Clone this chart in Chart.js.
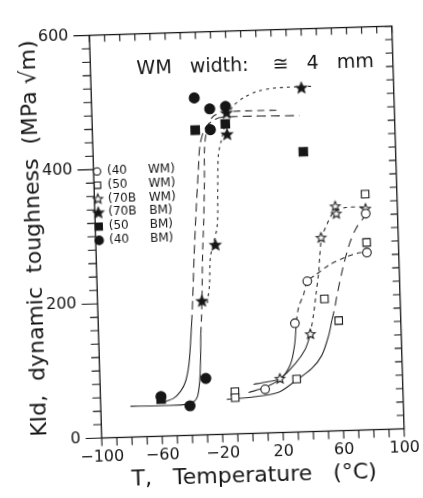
<!DOCTYPE html>
<html>
<head>
<meta charset="utf-8">
<script src="https://cdn.jsdelivr.net/npm/chart.js@4.4.1/dist/chart.umd.min.js"></script>
<style>
  html, body { margin: 0; padding: 0; background: #fff; overflow: hidden; }
  /* the scanned figure sits slightly rotated on the page */
  #wrap {
    position: absolute; left: 0; top: 0; width: 423px; height: 498px;
    transform: rotate(-1.75deg); transform-origin: 246.75px 223.5px;
  }
</style>
</head>
<body>
<div id="wrap"><canvas id="chart" width="423" height="498"></canvas></div>
<script>
// ── DATA (T in °C, KId in MPa√m) ─────────────────
const wm40Points = [[9, 65], [30, 162], [39, 224], [79, 264], [79, 322]];
const wm50Points = [[-11, 63], [-11, 54], [30, 79], [50, 197], [59, 164], [79, 351], [79, 279]];
const wm70Points = [[19, 80], [40, 145], [49, 288], [59, 334], [59.5, 323], [79, 329]];
const bm70Points = [[39, 512], [-11, 446], [-11, 478], [-21, 282], [-31, 199]];
const bm50Points = [[-32, 454], [-12, 462], [39, 417], [-60, 55]];
const bm40Points = [[-32, 502], [-22, 485], [-11.5, 488], [-22, 454], [-60, 59], [-41, 44], [-30, 84]];

// fitted curves, lower shelf solid, upper part dashed
const bmCurveASolid = [[-59.4, 50], [-51.6, 56], [-46.9, 66], [-43.5, 80], [-41, 104], [-39.4, 137], [-38.3, 166]];
const bmCurveADash  = [[-38.3, 166], [-37.3, 195], [-35.3, 266], [-32.9, 338], [-30.7, 395], [-29.2, 431], [-25.8, 455], [-21, 466], [-14.3, 472], [37, 471]];
const bmCurveBSolid = [[-80.4, 46], [-61.7, 45.5], [-45.2, 46], [-38.5, 50], [-35.8, 58], [-34.1, 80], [-33.2, 108], [-32.4, 151]];
const bmCurveBDash  = [[-32.4, 151], [-31.1, 194], [-29.7, 266], [-28.1, 323], [-26.9, 381], [-26.2, 428], [-24.5, 452], [-21.6, 469], [-18.2, 476], [-11, 480], [23, 480]];
const bmCurveCDash  = [[-27.5, 196], [-25.7, 223], [-24.4, 266], [-19.5, 309], [-18.3, 366], [-17.2, 416], [-14.9, 438], [-11.3, 466], [-6.9, 487], [1.3, 501], [10, 509], [21, 513], [46, 514]];
const wm40Solid = [[-2, 61], [9, 68], [19, 79], [26, 100], [29.3, 129], [31, 165]];
const wm40Dash  = [[31, 165], [32.8, 186], [36.4, 205], [38.9, 224], [44.6, 233], [53.6, 247], [64.7, 258], [73.6, 264], [79, 264]];
const wm70Solid = [[1.4, 73], [10, 76], [19, 80], [29.4, 102], [36.3, 123], [40, 145]];
const wm70Dash  = [[40, 145], [42.6, 176], [44.5, 204], [46.9, 240], [47.6, 257], [49.4, 288], [53.4, 309], [58, 326], [65.9, 332], [79, 332]];
const wm50Solid = [[-16.5, 52], [0, 54], [17.7, 60], [29, 76], [40.2, 94], [47.1, 113], [52, 142], [54.5, 165]];
const wm50Dash  = [[54.5, 165], [56.5, 182], [58.3, 201], [62.2, 237], [67.2, 275], [72.2, 300], [77.7, 316], [83, 322]];

// ── AXES ─────────────────────────────────────────
const xTickValues  = [-100, -90, -80, -70, -60, -50, -40, -30, -20, -10, 0, 10, 20, 30, 40, 50, 60, 70, 80, 90, 100];
const xLabelValues = [-100, -60, -20, 20, 60, 100];
const xTickLabels  = ['\u2212100', '\u221260', '\u221220', '20', '60', '100'];
const yTickValues  = [0, 20, 40, 60, 80, 100, 120, 140, 160, 180, 200, 220, 240, 260, 280, 300,
                      320, 340, 360, 380, 400, 420, 440, 460, 480, 500, 520, 540, 560, 580, 600];
const yLabelValues = [0, 200, 400, 600];
const yTickLabels  = ['0', '200', '400', '600'];

const INK  = '#161616';
const LINE = '#2a2a2a';
const FONT = 'DejaVu Sans';

// ── MARKERS ──────────────────────────────────────
function starImage(filled, r) {
  const s = Math.ceil(r * 2 + 4);
  const c = document.createElement('canvas');
  c.width = c.height = s;
  const g = c.getContext('2d');
  g.beginPath();
  for (let i = 0; i < 10; i++) {
    const rr = i % 2 ? r * 0.45 : r;
    const a = -Math.PI / 2 + i * Math.PI / 5;
    g.lineTo(s / 2 + rr * Math.cos(a), s / 2 + rr * Math.sin(a));
  }
  g.closePath();
  g.fillStyle = filled ? INK : '#fff';
  g.fill();
  g.lineWidth = 1.1;
  g.strokeStyle = INK;
  g.stroke();
  return c;
}
const openStar   = starImage(false, 5);
const filledStar = starImage(true, 5.6);

const pts = arr => arr.map(([x, y]) => ({ x, y }));

function marks(label, data, style, radius, filled) {
  return {
    label,
    data: pts(data),
    showLine: false,
    pointStyle: style,
    pointRadius: radius,
    pointBorderWidth: 1.1,
    pointBorderColor: INK,
    pointBackgroundColor: filled ? INK : '#fff',
    order: 0,
  };
}

function curve(data, dash) {
  return {
    data: pts(data),
    showLine: true,
    borderColor: LINE,
    borderWidth: 1.1,
    borderDash: dash,
    pointRadius: 0,
    tension: 0.3,
    fill: false,
    order: 2,
  };
}

// ── PLUGINS ──────────────────────────────────────
const frameTicks = {
  id: 'frameTicks',
  afterDraw(chart) {
    const { ctx, chartArea: a, scales: { x, y } } = chart;
    ctx.save();
    ctx.strokeStyle = INK;
    ctx.lineWidth = 1.3;
    ctx.strokeRect(a.left, a.top, a.right - a.left, a.bottom - a.top);
    ctx.lineWidth = 1.1;
    ctx.beginPath();
    xTickValues.forEach(v => {
      const px = x.getPixelForValue(v);
      ctx.moveTo(px, a.bottom); ctx.lineTo(px, a.bottom + 8);
      ctx.moveTo(px, a.top);    ctx.lineTo(px, a.top + 7);
    });
    yTickValues.forEach(v => {
      const py = y.getPixelForValue(v);
      const len = yLabelValues.includes(v) ? 16 : 8;
      ctx.moveTo(a.left - len, py); ctx.lineTo(a.left, py);
      ctx.moveTo(a.right, py);      ctx.lineTo(a.right - 7, py);
    });
    ctx.stroke();
    ctx.restore();
  },
};

const legendBox = {
  id: 'legendBox',
  afterDraw(chart) {
    const { ctx, chartArea: a, scales: { y } } = chart;
    const rows = chart.data.datasets.filter(d => d.label);
    let yy = y.getPixelForValue(397);
    const mx = a.left + 3.5;
    ctx.save();
    ctx.font = `12px ${FONT}`;
    ctx.textBaseline = 'middle';
    ctx.fillStyle = INK;
    rows.forEach(d => {
      ctx.save();
      ctx.fillStyle = d.pointBackgroundColor;
      ctx.strokeStyle = d.pointBorderColor;
      ctx.lineWidth = d.pointBorderWidth;
      Chart.helpers.drawPoint(ctx, {
        pointStyle: d.pointStyle,
        radius: d.pointRadius * 0.85,
        rotation: 0,
        borderWidth: d.pointBorderWidth,
      }, mx, yy);
      ctx.restore();
      const cut = d.label.lastIndexOf(' ');
      ctx.fillText(d.label.slice(0, cut), mx + 10, yy);
      ctx.fillText(d.label.slice(cut + 1), mx + 51, yy);
      yy += 13.8;
    });
    ctx.restore();
  },
};

const note = {
  id: 'note',
  afterDraw(chart) {
    const { ctx, scales: { x, y } } = chart;
    ctx.save();
    ctx.font = `19px ${FONT}`;
    ctx.fillStyle = INK;
    ctx.textAlign = 'center';
    ctx.textBaseline = 'middle';
    ctx.fillText('WM   width:    \u2245   4   mm', x.getPixelForValue(9), y.getPixelForValue(547));
    ctx.restore();
  },
};

// ── CHART ────────────────────────────────────────
new Chart(document.getElementById('chart'), {
  type: 'scatter',
  data: {
    datasets: [
      marks('(40 WM)',  wm40Points, 'circle', 4.3, false),
      marks('(50 WM)',  wm50Points, 'rect',   5.3, false),
      marks('(70B WM)', wm70Points, openStar, 5,   false),
      marks('(70B BM)', bm70Points, filledStar, 5, true),
      marks('(50 BM)',  bm50Points, 'rect',   6,   true),
      marks('(40 BM)',  bm40Points, 'circle', 5,   true),
      curve(bmCurveASolid, []),
      curve(bmCurveADash, [9, 5]),
      curve(bmCurveBSolid, []),
      curve(bmCurveBDash, [7, 5]),
      curve(bmCurveCDash, [3, 4]),
      curve(wm40Solid, []),
      curve(wm40Dash, [5, 4]),
      curve(wm70Solid, []),
      curve(wm70Dash, [4, 4]),
      curve(wm50Solid, []),
      curve(wm50Dash, [9, 6]),
    ],
  },
  options: {
    responsive: false,
    animation: false,
    layout: { padding: { left: 0, right: 24.75, top: 13.5, bottom: 0 } },
    plugins: { legend: { display: false }, tooltip: { enabled: false } },
    scales: {
      x: {
        type: 'linear',
        min: -100,
        max: 100,
        grid: { display: false, drawTicks: false },
        border: { display: false },
        ticks: {
          stepSize: 10,
          autoSkip: false,
          maxRotation: 0,
          padding: 10,
          color: INK,
          font: { family: FONT, size: 16 },
          callback: v => {
            const i = xLabelValues.indexOf(v);
            return i < 0 ? '' : xTickLabels[i];
          },
        },
        title: {
          display: true,
          text: 'T,   Temperature   (\u00B0C)',
          color: INK,
          font: { family: FONT, size: 22 },
          padding: { top: 0, bottom: 9 },
        },
        afterFit: s => { s.height = 64.5; },
      },
      y: {
        type: 'linear',
        min: 0,
        max: 600,
        grid: { display: false, drawTicks: false },
        border: { display: false },
        ticks: {
          stepSize: 20,
          autoSkip: false,
          padding: 21,
          color: INK,
          font: { family: FONT, size: 16 },
          callback: v => {
            const i = yLabelValues.indexOf(v);
            return i < 0 ? '' : yTickLabels[i];
          },
        },
        title: {
          display: true,
          text: 'KId,  dynamic  toughness  (MPa \u221Am)',
          color: INK,
          font: { family: FONT, size: 22 },
          padding: { top: 21, bottom: 0 },
        },
        afterFit: s => { s.width = 95.25; },
      },
    },
  },
  plugins: [frameTicks, legendBox, note],
});
</script>
</body>
</html>
